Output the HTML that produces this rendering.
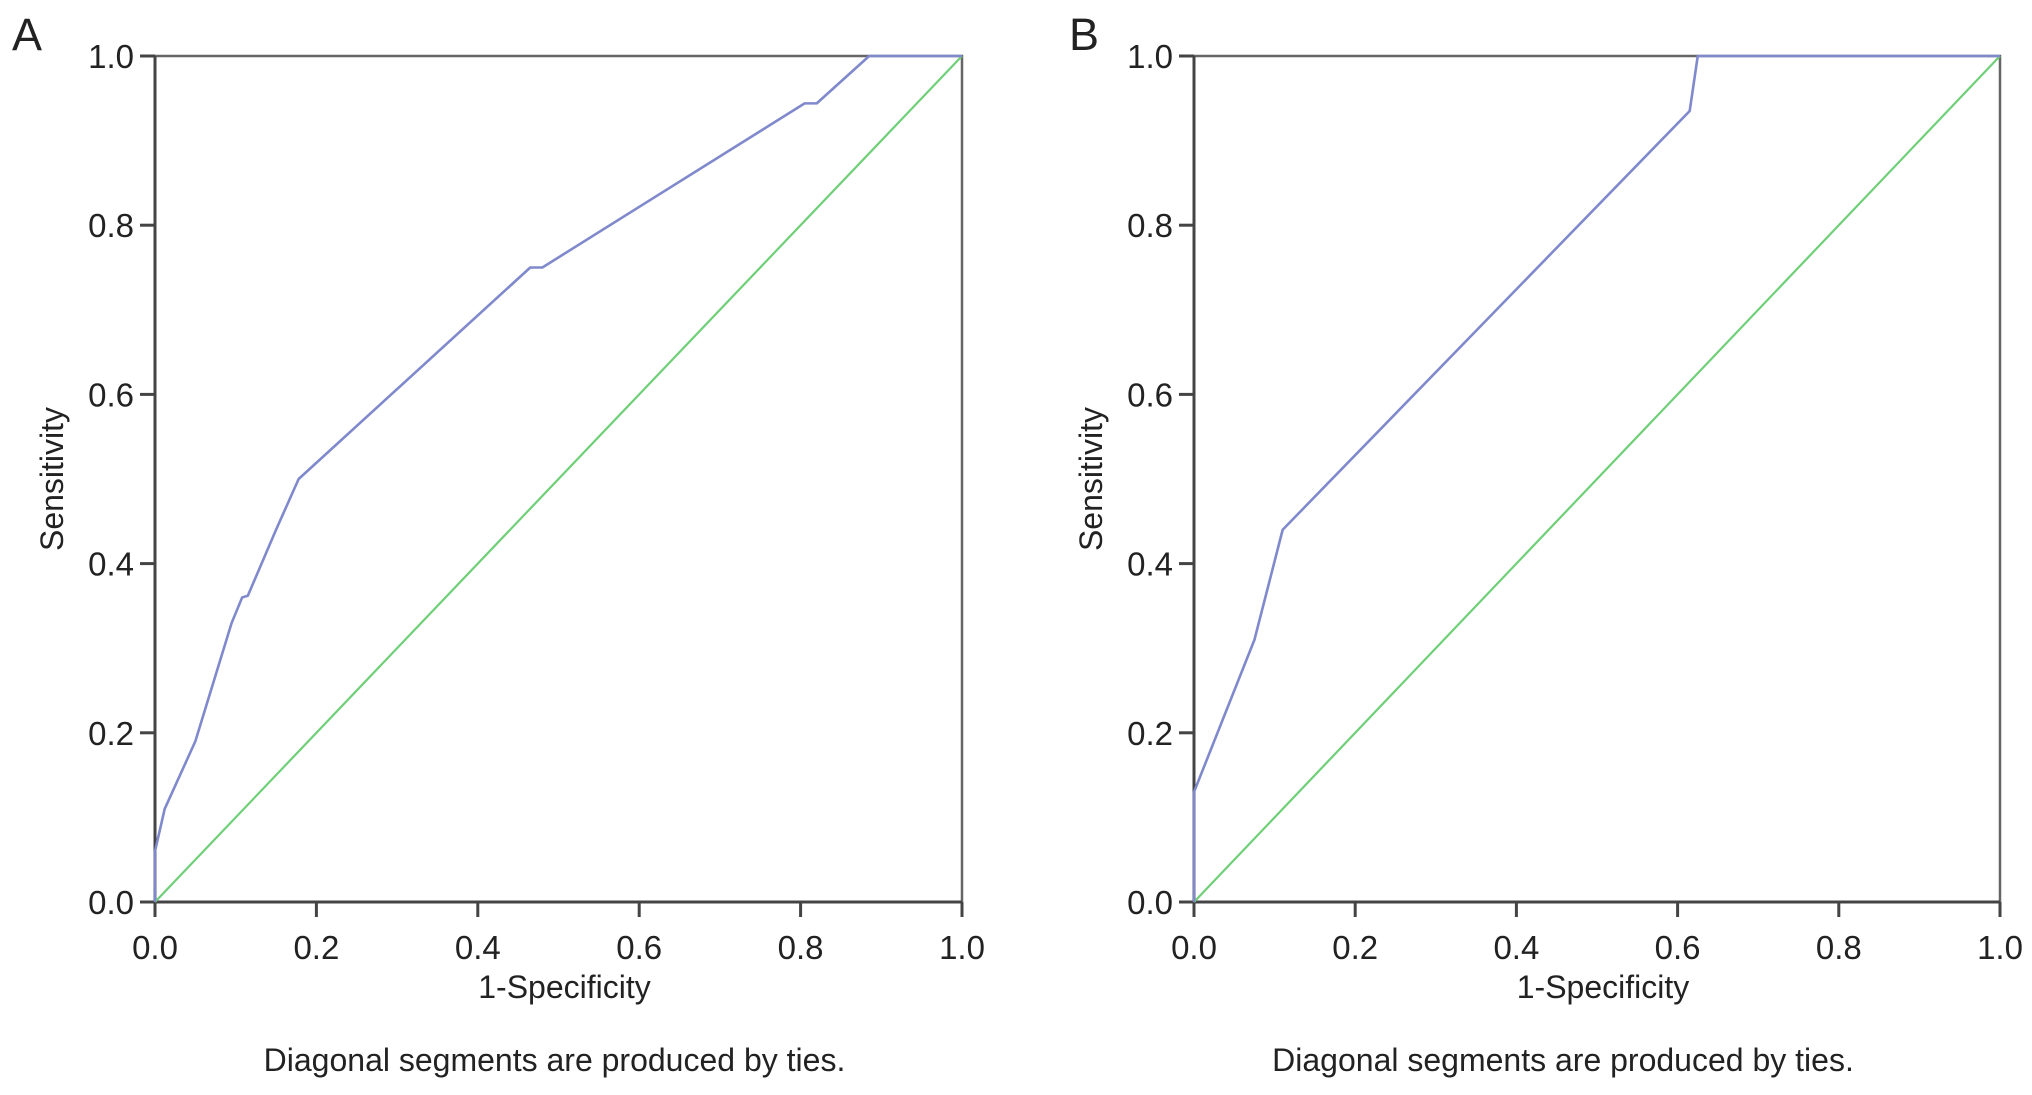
<!DOCTYPE html>
<html><head><meta charset="utf-8">
<style>
html,body{margin:0;padding:0;background:#fff;}
svg text{font-family:"Liberation Sans",Arial,sans-serif;fill:#222;}
</style></head>
<body>
<svg id="chart" width="2032" height="1090" viewBox="0 0 2032 1090" xmlns="http://www.w3.org/2000/svg"></svg>
<script>
const ticks = [0, 0.2, 0.4, 0.6, 0.8, 1.0];
const tickLabels = ["0.0","0.2","0.4","0.6","0.8","1.0"];
const panelLabels = ["A","B"];
const curveAx = [0,0,0.012,0.05,0.095,0.108,0.115,0.15,0.178,0.465,0.48,0.805,0.82,0.885,1];
const curveAy = [0,0.06,0.11,0.19,0.33,0.36,0.362,0.44,0.5,0.75,0.75,0.944,0.944,1,1];
const curveBx = [0,0,0.075,0.11,0.615,0.625,1];
const curveBy = [0,0.13,0.31,0.44,0.935,1,1];
const refX = [0,1];
const refY = [0,1];

const svg = document.getElementById('chart');
const NS = 'http://www.w3.org/2000/svg';
function mk(tag, attrs, parent){
  const e = document.createElementNS(NS, tag);
  for (const k in attrs) e.setAttribute(k, attrs[k]);
  parent.appendChild(e);
  return e;
}
const panels = [
  {x0:155, x1:962, y0:902, y1:56, lab:panelLabels[0], lx:12, tx:6, fx:-4, cx:curveAx, cy:curveAy, name:'a'},
  {x0:1194, x1:2000, y0:902, y1:56, lab:panelLabels[1], lx:1069, tx:6, fx:-34, cx:curveBx, cy:curveBy, name:'b'}
];
panels.forEach(p=>{
  const g = mk('g', {}, svg);
  
  
  const sx = v => p.x0 + v*(p.x1-p.x0);
  const sy = v => p.y0 - v*(p.y0-p.y1);
  const fr = mk('path', {d:`M${p.x0} ${p.y1} H${p.x1} V${p.y0}`, stroke:'#666', 'stroke-width':2.5, fill:'none'}, g);
  
  
  const ax = mk('path', {d:`M${p.x0} ${p.y1} V${p.y0} H${p.x1}`, stroke:'#444', 'stroke-width':3, fill:'none'}, g);
  
  
  ticks.forEach((t,i)=>{
    const yt = mk('line', {x1:p.x0-15, x2:p.x0, y1:sy(t), y2:sy(t), stroke:'#444', 'stroke-width':3}, g);
    
    
    const yl = mk('text', {x:p.x0-21, y:sy(t)+12, 'text-anchor':'end', 'font-size':33}, g);
    yl.textContent = tickLabels[i];
    
    
    const xt = mk('line', {x1:sx(t), x2:sx(t), y1:p.y0, y2:p.y0+15, stroke:'#444', 'stroke-width':3}, g);
    
    
    const xl = mk('text', {x:sx(t), y:p.y0+57, 'text-anchor':'middle', 'font-size':33}, g);
    xl.textContent = tickLabels[i];
    
    
  });
  const rl = mk('polyline', {points: refX.map((x,i)=>sx(x)+','+sy(refY[i])).join(' '), stroke:'#6fcf78', 'stroke-width':2.2, fill:'none'}, g);
  
  
  const cl = mk('polyline', {points: p.cx.map((x,i)=>sx(x)+','+sy(p.cy[i])).join(' '), stroke:'#7f89cc', 'stroke-width':2.6, fill:'none', 'stroke-linejoin':'round'}, g);
  
  
  const pl = mk('text', {x:p.lx, y:50, 'font-size':45}, g);
  pl.textContent = p.lab;
  
  
  const xtl = mk('text', {x:(p.x0+p.x1)/2 + p.tx, y:p.y0+96, 'text-anchor':'middle', 'font-size':32}, g);
  xtl.textContent = '1-Specificity';
  
  
  const cy = (p.y0+p.y1)/2;
  const ytl = mk('text', {x:p.x0-92, y:cy, 'text-anchor':'middle', 'font-size':32, transform:`rotate(-90 ${p.x0-92} ${cy})`}, g);
  ytl.textContent = 'Sensitivity';
  
  
  const fn = mk('text', {x:(p.x0+p.x1)/2 + p.fx, y:1071, 'text-anchor':'middle', 'font-size':32}, g);
  fn.textContent = 'Diagonal segments are produced by ties.';
  
  
});
</script>
</body></html>
